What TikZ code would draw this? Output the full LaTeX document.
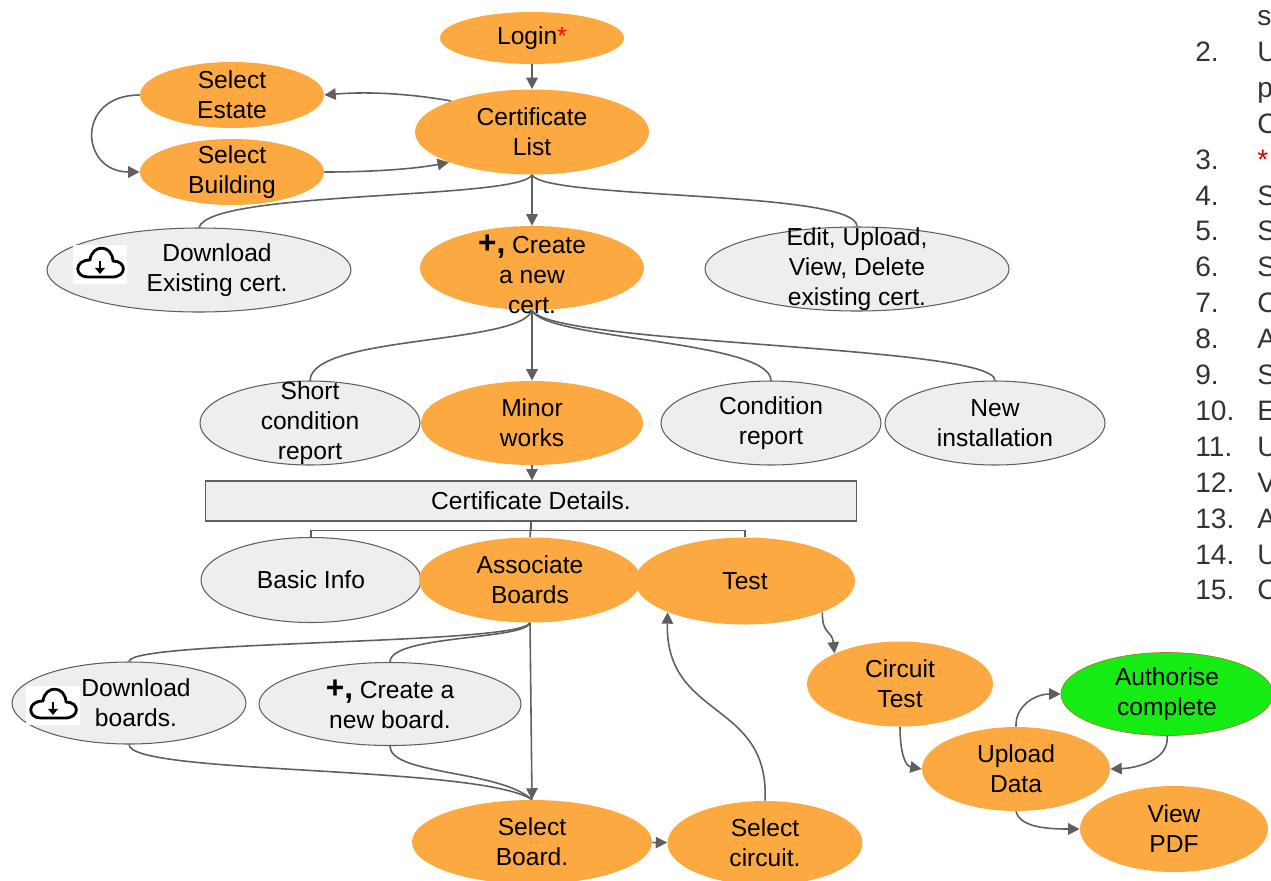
\documentclass[tikz,border=0pt]{standalone}
\usepackage{fontspec}
\setmainfont{Liberation Sans}
\usepackage{xcolor}
\usepackage{tikz}
\usetikzlibrary{shapes.geometric,arrows.meta}

\definecolor{boxorange}{RGB}{251,169,64}
\definecolor{boxgray}{RGB}{238,238,238}
\definecolor{linegray}{RGB}{95,95,95}
\definecolor{authgreen}{RGB}{20,236,20}

\tikzset{
  sz/.style 2 args={minimum width=0.02cm*#1, minimum height=0.02cm*#2},
  ostep/.style={ellipse, fill=boxorange, inner sep=0pt},
  gstep/.style={ellipse, draw=linegray, fill=boxgray, line width=0.6pt, inner sep=0pt},
  txt/.style={align=center, font=\fontsize{14}{17}\selectfont, inner sep=0pt},
  lst/.style={anchor=base west, font=\fontsize{16}{19}\selectfont, text=black!80, inner sep=0pt},
  flow/.style={draw=linegray, line width=0.9pt, -{Triangle[length=6.5pt,width=6.5pt]}},
  link/.style={draw=linegray, line width=0.9pt},
}

\begin{document}
\begin{tikzpicture}[x=0.02cm, y=-0.02cm]
\useasboundingbox (0,0) rectangle (1271,880);

% Login and certificate list
\node[ostep, sz={184}{52}, label={[txt]center:Login{\color{red}*}}] (login) at (532,38) {};
\node[ostep, sz={234}{85}, label={[txt]center:Certificate\\List}] (list) at (532,132) {};
\node[ostep, sz={184}{66}, label={[txt]center:Select\\Estate}] (estate) at (232,95) {};
\node[ostep, sz={184}{66}, label={[txt]center:Select\\Building}] (building) at (232,172) {};
\node[gstep, sz={304}{84}, label={[txt,xshift=0.36cm]center:Download\\Existing cert.}] (dlcert) at (199,270) {};
\node[ostep, sz={224}{84}, label={[txt,yshift=-0.12cm]center:{\fontsize{18}{17}\selectfont\bfseries +,} Create\\a new\\cert.}] (newcert) at (532,268) {};
\node[gstep, sz={304}{84}, label={[txt]center:Edit, Upload,\\View, Delete\\existing cert.}] (edit) at (857,269) {};

% Certificate types
\node[gstep, sz={220}{84}, label={[txt]center:Short\\condition\\report}] (short) at (310,423) {};
\node[ostep, sz={222}{84}, label={[txt]center:Minor\\works}] (minor) at (532,423) {};
\node[gstep, sz={220}{84}, label={[txt]center:Condition\\report}] (cond) at (771,423) {};
\node[gstep, sz={220}{84}, label={[txt]center:New\\installation}] (newinst) at (995,423) {};

% Certificate details
\node[draw=linegray, fill=boxgray, line width=0.6pt, sz={651}{40}, txt] (details) at (531,501) {Certificate Details.};
\node[gstep, sz={220}{85}, label={[txt]center:Basic Info}] (basic) at (311,580) {};
\node[ostep, sz={222}{85}, label={[txt]center:Associate\\Boards}] (assoc) at (530,580) {};
\node[ostep, sz={220}{87}, label={[txt]center:Test}] (test) at (745,581) {};

% Boards and circuits
\node[gstep, sz={234}{82}, label={[txt,xshift=0.14cm]center:Download\\boards.}] (dlboards) at (129,703) {};
\node[gstep, sz={262}{83}, label={[txt]center:{\fontsize{18}{17}\selectfont\bfseries +,} Create a\\new board.}] (newboard) at (390,704) {};
\node[ostep, sz={240}{84}, label={[txt]center:Select\\Board.}] (board) at (532,842) {};
\node[ostep, sz={195}{84}, label={[txt]center:Select\\circuit.}] (circuit) at (765,843) {};
\node[ostep, sz={186}{85}, label={[txt]center:Circuit\\Test}] (ctest) at (900,684) {};
\node[ellipse, fill=authgreen, draw=boxorange!70!black, line width=0.4pt, inner sep=0pt, sz={212}{83}, label={[txt]center:Authorise\\complete}] (auth) at (1167,694) {};
\node[ostep, sz={188}{84}, label={[txt]center:Upload\\Data}] (upload) at (1016,769) {};
\node[ostep, sz={188}{86}, label={[txt]center:View\\PDF}] (pdf) at (1174,829) {};

% Cloud icons
\foreach \cx/\cy in {100/264, 53/705} {
\begin{scope}[shift={(\cx,\cy)}]
\fill[white] (-27,-19) rectangle (27,20);
\draw[line width=1.6pt, line join=round] (-12,13) .. controls (-26,13) and (-26,-4) .. (-10,-4)
  .. controls (-8,-20) and (12,-20) .. (13,-3)
  .. controls (27,-3) and (27,13) .. (12,13) -- cycle;
\draw[line width=1.4pt, -{Triangle[length=3.5pt,width=5.5pt]}] (0,-3) -- (0,10);
\end{scope}
}

% Connectors, top part
\draw[flow] (login) -- (list);
\draw[flow] (list.159) .. controls (400,92) and (360,92) .. (estate.east);
\draw[flow] (estate.west) .. controls (75,95) and (80,172) .. (building.west);
\draw[flow] (building.east) .. controls (380,172) and (420,168) .. (list.200);
\draw[link] (list.south) .. controls (520,200) and (210,190) .. (dlcert.north);
\draw[flow] (list) -- (newcert);
\draw[link] (list.south) .. controls (545,200) and (857,190) .. (edit.north);

% Connectors, certificate types
\draw[link] (newcert.south) .. controls (520,345) and (312,335) .. (short.north);
\draw[flow] (newcert) -- (minor);
\draw[link] (newcert.south) .. controls (545,340) and (770,340) .. (cond.north);
\draw[link] (newcert.south) .. controls (550,345) and (995,345) .. (newinst.north);
\draw[flow] (minor.south) -- (minor.south |- details.north);
\draw[link] (details.south) -- (assoc.north);
\draw[link] (details.south) -- ++(0,9) -| (basic.north);
\draw[link] (details.south) -- ++(0,9) -| (test.north);

% Connectors, boards
\draw[link] (assoc.south) .. controls (520,645) and (130,640) .. (dlboards.north);
\draw[link] (assoc.south) .. controls (525,640) and (390,635) .. (newboard.north);
\draw[flow] (assoc.south) -- (board.north);
\draw[link] (dlboards.south) .. controls (130,775) and (480,765) .. (board.north);
\draw[link] (newboard.south) .. controls (390,775) and (500,770) .. (board.north);
\draw[flow] (board) -- (circuit);
\draw[flow] (circuit.north) .. controls (770,700) and (665,720) .. (test.202);

% Connectors, test and upload
\draw[flow] (test.-22) .. controls (822,635) and (832,630) .. (ctest.155);
\draw[flow] (ctest.south) .. controls (900,752) and (905,766) .. (upload.west);
\draw[flow] (upload.north) .. controls (1015,706) and (1035,694) .. (auth.west);
\draw[flow] (auth.south) .. controls (1170,758) and (1140,768) .. (upload.east);
\draw[flow] (upload.south) .. controls (1020,828) and (1050,829) .. (pdf.west);

% Numbered list at the right edge
\node[lst] (l1) at (1257,25) {st};
\node[lst] (n2) at (1195,61) {2.};
\node[lst] (l2) at (1257,61) {U};
\node[lst] (l2b) at (1257,97) {p};
\node[lst] (l2c) at (1257,133) {C};
\node[lst] (n3) at (1195,169) {3.};
\node[lst, text=red!80!black] (l3) at (1257,169) {*};
\foreach \n/\l in {4/S,5/S,6/S,7/C,8/A,9/S,10/E,11/U,12/V,13/A,14/U,15/C} {
  \node[lst] (n\n) at (1195,{205+(\n-4)*35.9}) {\n.};
  \node[lst] (l\n) at (1257,{205+(\n-4)*35.9}) {\l};
}
\end{tikzpicture}
\end{document}
